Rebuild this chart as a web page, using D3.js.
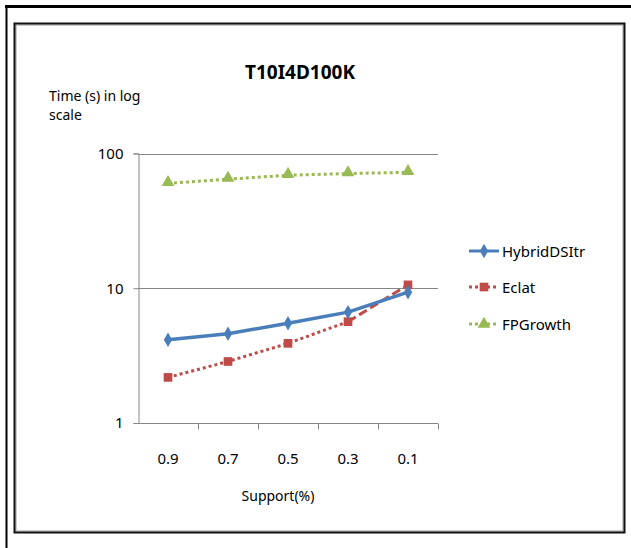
<!DOCTYPE html>
<html>
<head>
<meta charset="utf-8">
<script src="https://cdn.jsdelivr.net/npm/d3@7"></script>
<style>
  html, body { margin: 0; padding: 0; background: #fff; }
  svg { display: block; }
  text { font-family: "Noto Sans", "Open Sans", sans-serif; fill: #000; }
</style>
</head>
<body>
<svg id="chart" width="631" height="548"></svg>
<script>
// Support thresholds (x categories) and run times in seconds
const categories = ["0.9", "0.7", "0.5", "0.3", "0.1"];
const hybridDSItr = [4.15, 4.6, 5.5, 6.65, 9.35];
const eclat = [2.18, 2.86, 3.9, 5.65, 10.6];
const fpGrowth = [60, 64.5, 69, 71, 72.5];
const yTicks = [1, 10, 100];
const seriesNames = ["HybridDSItr", "Eclat", "FPGrowth"];

const svg = d3.select("#chart");
const W = 631, H = 548;

svg.append("rect").attr("width", W).attr("height", H).attr("fill", "#fff");

// Page frame lines
svg.append("line").attr("x1", 5).attr("x2", W).attr("y1", 6.5).attr("y2", 6.5)
  .attr("stroke", "#000").attr("stroke-width", 3);
svg.append("line").attr("x1", 6.5).attr("x2", 6.5).attr("y1", 5).attr("y2", H)
  .attr("stroke", "#000").attr("stroke-width", 2);

// Chart border with a soft inner edge
svg.append("rect").attr("x", 16).attr("y", 25).attr("width", 607).attr("height", 506)
  .attr("fill", "none").attr("stroke", "#bbb").attr("stroke-width", 1.5);
svg.append("rect").attr("x", 14.5).attr("y", 23.5).attr("width", 610).attr("height", 509)
  .attr("fill", "none").attr("stroke", "#111").attr("stroke-width", 2);

const x = d3.scaleBand().domain(categories).range([138, 438]);
const cx = c => x(c) + x.bandwidth() / 2;
const y = d3.scaleLog().domain([1, 100]).range([423, 153.5]);

const axisColor = "#868686";

// Horizontal gridlines
svg.append("g").selectAll("line").data(yTicks.filter(t => t > 1)).join("line")
  .attr("x1", 138).attr("x2", 438)
  .attr("y1", d => Math.round(y(d)) + 0.5).attr("y2", d => Math.round(y(d)) + 0.5)
  .attr("stroke", axisColor).attr("stroke-width", 1);

// Y axis
const yAxis = d3.axisLeft(y).tickValues(yTicks).tickFormat(d3.format("d"))
  .tickSize(5).tickPadding(10);
const gy = svg.append("g").attr("transform", "translate(138.5,0)").call(yAxis);
gy.select(".domain").attr("stroke", axisColor);
gy.selectAll(".tick line").attr("stroke", axisColor);
gy.selectAll(".tick text").style("font-size", "15px").attr("fill", "#000")
  .style("font-family", '"Noto Sans", sans-serif');

// X axis with ticks between categories
const xAxis = d3.axisBottom(x).tickSize(0).tickPadding(30);
const gx = svg.append("g").attr("transform", "translate(0,423.5)").call(xAxis);
gx.select(".domain").attr("stroke", axisColor).attr("d", "M138,0H438");
gx.selectAll(".tick text").style("font-size", "15px").attr("fill", "#000")
  .style("font-family", '"Noto Sans", sans-serif');
gx.append("g").selectAll("line").data(categories).join("line")
  .attr("x1", d => x(d) + x.bandwidth() + 0.5).attr("x2", d => x(d) + x.bandwidth() + 0.5)
  .attr("y1", 0).attr("y2", 6).attr("stroke", axisColor);

// Titles
svg.append("text").attr("x", 300).attr("y", 79).attr("text-anchor", "middle")
  .style("font-size", "19px").style("font-weight", "bold").text("T10I4D100K");
svg.append("text").attr("x", 49).attr("y", 101).style("font-size", "14px").text("Time (s) in log");
svg.append("text").attr("x", 49).attr("y", 120).style("font-size", "14px").text("scale");
svg.append("text").attr("x", 278).attr("y", 501).attr("text-anchor", "middle")
  .style("font-size", "14px").text("Support(%)");

const line = d3.line().x((d, i) => cx(categories[i])).y(d => y(d));

const blue = "#4A7EBB", red = "#BE4B48", green = "#98B954";

// FPGrowth: dotted green with triangles
svg.append("path").attr("d", line(fpGrowth)).attr("fill", "none")
  .attr("stroke", green).attr("stroke-width", 3).attr("stroke-dasharray", "3,3");

// Eclat: dotted red, last segment dashed
svg.append("path").attr("d", line(eclat.slice(0, 4))).attr("fill", "none")
  .attr("stroke", red).attr("stroke-width", 3).attr("stroke-dasharray", "3,3");
const lastSeg = d3.line().x(d => cx(d[0])).y(d => y(d[1]));
svg.append("path")
  .attr("d", lastSeg([[categories[3], eclat[3]], [categories[4], eclat[4]]]))
  .attr("fill", "none").attr("stroke", red).attr("stroke-width", 3)
  .attr("stroke-dasharray", "9,4");

// HybridDSItr: solid blue
svg.append("path").attr("d", line(hybridDSItr)).attr("fill", "none")
  .attr("stroke", blue).attr("stroke-width", 3.5).attr("stroke-linejoin", "round");

const diamond = d3.symbol().type(d3.symbolDiamond).size(60);
const square = d3.symbol().type(d3.symbolSquare).size(75);
const triangle = d3.symbol().type(d3.symbolTriangle).size(70);

svg.append("g").selectAll("path").data(fpGrowth).join("path")
  .attr("d", triangle).attr("fill", green)
  .attr("transform", (d, i) => `translate(${cx(categories[i])},${y(d) - 1})`);
svg.append("g").selectAll("path").data(eclat).join("path")
  .attr("d", square).attr("fill", red)
  .attr("transform", (d, i) => `translate(${cx(categories[i])},${y(d)})`);
svg.append("g").selectAll("path").data(hybridDSItr).join("path")
  .attr("d", diamond).attr("fill", blue)
  .attr("transform", (d, i) => `translate(${cx(categories[i])},${y(d)})`);

// Legend
const legendY = [251, 287, 324];
const legendStyles = [
  { color: blue, dash: null, sym: diamond, w: 3 },
  { color: red, dash: "3,3", sym: square, w: 3 },
  { color: green, dash: "3,3", sym: triangle, w: 3 }
];
seriesNames.forEach((name, i) => {
  const st = legendStyles[i];
  const g = svg.append("g").attr("transform", `translate(0,${legendY[i]})`);
  g.append("line").attr("x1", 469).attr("x2", 499).attr("y1", 0).attr("y2", 0)
    .attr("stroke", st.color).attr("stroke-width", st.w)
    .attr("stroke-dasharray", st.dash);
  g.append("path").attr("d", st.sym).attr("fill", st.color)
    .attr("transform", "translate(484,0)");
  g.append("text").attr("x", 502).attr("y", 5.5).style("font-size", "15px").text(name);
});
</script>
</body>
</html>
